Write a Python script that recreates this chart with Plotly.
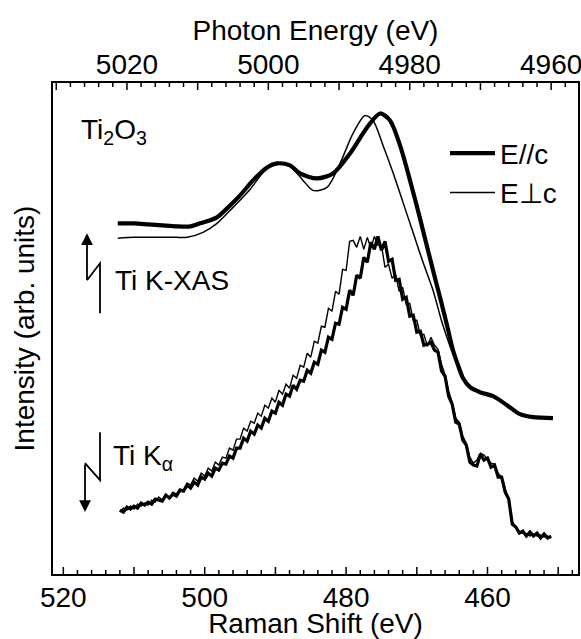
import plotly.graph_objects as go

# ---------------- data ----------------
# Raman-shift grid (eV) for the Ti K-alpha emission spectra
raman_grid = [
    512.0, 511.5, 511.0, 510.5, 510.0, 509.5, 509.0, 508.5, 508.0, 507.5,
    507.0, 506.5, 506.0, 505.5, 505.0, 504.5, 504.0, 503.5, 503.0, 502.5,
    502.0, 501.5, 501.0, 500.5, 500.0, 499.5, 499.0, 498.5, 498.0, 497.5,
    497.0, 496.5, 496.0, 495.5, 495.0, 494.5, 494.0, 493.5, 493.0, 492.5,
    492.0, 491.5, 491.0, 490.5, 490.0, 489.5, 489.0, 488.5, 488.0, 487.5,
    487.0, 486.5, 486.0, 485.5, 485.0, 484.5, 484.0, 483.5, 483.0, 482.5,
    482.0, 481.5, 481.0, 480.5, 480.0, 479.5, 479.0, 478.5, 478.0, 477.5,
    477.0, 476.5, 476.0, 475.5, 475.0, 474.5, 474.0, 473.5, 473.0, 472.5,
    472.0, 471.5, 471.0, 470.5, 470.0, 469.5, 469.0, 468.5, 468.0, 467.5,
    467.0, 466.5, 466.0, 465.5, 465.0, 464.5, 464.0, 463.5, 463.0, 462.5,
    462.0, 461.5, 461.0, 460.5, 460.0, 459.5, 459.0, 458.5, 458.0, 457.5,
    457.0, 456.5, 456.0, 455.5, 455.0, 454.5, 454.0, 453.5, 453.0, 452.5,
    452.0, 451.5, 451.0,
]
# Ti K-alpha intensity, E//c (arb. units)
kalpha_par = [
    64, 62, 67, 65, 68, 66, 71, 69, 72, 70,
    75, 74, 73, 79, 76, 80, 78, 84, 83, 89,
    86, 92, 89, 97, 95, 101, 98, 106, 104, 111,
    110, 118, 116, 126, 126, 136, 133, 143, 140, 149,
    146, 156, 153, 163, 161, 172, 169, 180, 178, 189,
    185, 194, 193, 204, 201, 212, 210, 224, 222, 237,
    235, 251, 250, 267, 265, 284, 279, 299, 296, 317,
    312, 332, 325, 338, 324, 333, 313, 315, 294, 295,
    275, 277, 258, 259, 242, 243, 229, 230, 232, 224,
    222, 203, 198, 178, 170, 152, 150, 134, 129, 112,
    109, 108, 120, 114, 116, 107, 109, 97, 97, 82,
    75, 50, 47, 41, 43, 38, 42, 38, 41, 36,
    40, 36, 38,
]
# Ti K-alpha intensity, E perp c (arb. units)
kalpha_perp = [
    62, 66, 64, 68, 65, 70, 68, 71, 69, 74,
    72, 77, 74, 79, 76, 82, 80, 85, 84, 91,
    89, 96, 93, 101, 98, 106, 103, 112, 109, 117,
    116, 126, 124, 135, 135, 146, 143, 153, 151, 161,
    158, 169, 166, 176, 172, 184, 180, 190, 186, 199,
    196, 209, 207, 221, 217, 233, 231, 248, 247, 266,
    263, 283, 280, 305, 304, 333, 334, 327, 338, 325,
    337, 326, 338, 329, 329, 307, 310, 296, 300, 283,
    287, 270, 271, 254, 254, 239, 240, 228, 237, 229,
    225, 210, 199, 183, 172, 156, 152, 138, 131, 117,
    111, 114, 121, 119, 115, 111, 110, 101, 97, 85,
    74, 53, 46, 43, 41, 40, 38, 40, 38, 39,
    37, 38, 36,
]

# Ti K-XAS (read on the Raman-shift scale, plotted against photon energy)
xas_par_raman = [512.3, 510.0, 508.0, 506.0, 504.0, 502.0, 500.66, 498.26, 496.84, 495.0,
                 493.17, 491.19, 489.77, 487.93, 486.52, 484.11, 481.85, 479.45, 477.04, 475.2,
                 473.79, 472.37, 470.96, 469.55, 467.71, 466.72, 465.73, 464.88, 464.17, 463.46,
                 462.47, 461.06, 459.22, 457.24, 455.4, 453.56, 450.74]
xas_par = [351, 351, 350, 349, 348, 348, 351, 357, 366, 379,
           394, 407, 411, 409, 401, 396, 401, 421, 447, 461,
           454, 429, 394, 356, 304, 277, 249, 224, 209, 196,
           187, 182, 178, 169, 160, 157, 156]

xas_perp_raman = [512.3, 510.0, 508.0, 506.0, 504.0, 502.5, 500.24, 498.26, 496.0, 493.59,
                  491.47, 489.77, 487.93, 486.09, 484.68, 482.7, 480.86, 479.02, 477.33, 476.19,
                  474.78, 473.37, 471.95, 470.54, 469.12, 467.71, 466.44, 465.3, 464.17, 463.46,
                  462.47, 461.06, 459.22, 457.24, 455.4, 453.56, 450.74]
xas_perp = [336, 337, 337, 337, 337, 337, 342, 351, 367, 385,
            404, 411, 408, 394, 384, 387, 411, 441, 459, 454,
            429, 402, 372, 342, 312, 284, 252, 228, 208, 196,
            187, 182, 178, 169, 160, 157, 156]

PHOTON_OFFSET = 4509.0  # photon energy = Raman shift + offset

# tick positions: long ticks every 10 eV, short ticks every 2 eV, labels every 20 eV
bottom_major = [450, 460, 470, 480, 490, 500, 510, 520]
bottom_minor = [448, 452, 454, 456, 458, 462, 464, 466, 468, 472, 474, 476, 478,
                482, 484, 486, 488, 492, 494, 496, 498, 502, 504, 506, 508,
                512, 514, 516, 518]
top_major = [4960, 4970, 4980, 4990, 5000, 5010, 5020, 5030]
top_minor = [4958, 4962, 4964, 4966, 4968, 4972, 4974, 4976, 4978, 4982, 4984, 4986,
             4988, 4992, 4994, 4996, 4998, 5002, 5004, 5006, 5008, 5012, 5014, 5016,
             5018, 5022, 5024, 5026, 5028]
bottom_alias = {"450": "", "470": "", "490": "", "510": ""}
top_alias = {"4970": "", "4990": "", "5010": "", "5030": ""}

RAMAN_RANGE = [521.46, 447.2]
PHOTON_RANGE = [RAMAN_RANGE[0] + PHOTON_OFFSET, RAMAN_RANGE[1] + PHOTON_OFFSET]
Y_RANGE = [0, 491.5]

# ---------------- layout helpers ----------------
W, H = 581, 639
ML, MR, MT, MB = 53, 3, 82.5, 65
FONT = "Liberation Sans, Arial, Helvetica, sans-serif"
FS = 28
PLOT_H = H - MT - MB
MAJOR_LEN = 7 / PLOT_H
MINOR_LEN = 4 / PLOT_H


def pxp(x):
    return (x - ML) / (W - ML - MR)


def pyp(y):
    return (H - MB - y) / (H - MT - MB)


xas_par_photon = [r + PHOTON_OFFSET for r in xas_par_raman]
xas_perp_photon = [r + PHOTON_OFFSET for r in xas_perp_raman]

fig = go.Figure()
fig.add_trace(go.Scatter(x=xas_par_photon, y=xas_par, mode="lines", name="E//c",
                         xaxis="x2", yaxis="y",
                         line=dict(color="black", width=4.2, shape="spline", smoothing=0.8)))
fig.add_trace(go.Scatter(x=xas_perp_photon, y=xas_perp, mode="lines", name="E\u22a5c",
                         xaxis="x2", yaxis="y",
                         line=dict(color="black", width=1.5, shape="spline", smoothing=0.8)))
fig.add_trace(go.Scatter(x=raman_grid, y=kalpha_par, mode="lines", showlegend=False,
                         line=dict(color="black", width=3.2)))
fig.add_trace(go.Scatter(x=raman_grid, y=kalpha_perp, mode="lines", showlegend=False,
                         line=dict(color="black", width=1.4)))

label_axis = dict(showgrid=False, zeroline=False, showline=True, linecolor="black",
                  linewidth=2, ticks="", tickmode="linear", dtick=10, tick0=0,
                  tickfont=dict(family=FONT, size=FS, color="black"),
                  ticklabeloverflow="allow")

fig.update_layout(
    width=W, height=H,
    margin=dict(l=ML, r=MR, t=MT, b=MB, autoexpand=False),
    paper_bgcolor="white", plot_bgcolor="white",
    font=dict(family=FONT, size=FS, color="black"),
    xaxis=dict(range=RAMAN_RANGE, labelalias=bottom_alias, mirror=True,
               ticklabelstandoff=-3,
               title=dict(text="Raman Shift (eV)", font=dict(family=FONT, size=FS),
                          standoff=17),
               **label_axis),
    xaxis2=dict(range=PHOTON_RANGE, overlaying="x", side="top", anchor="y",
                labelalias=top_alias, ticklabelstandoff=-4,
                title=dict(text="Photon Energy (eV)", font=dict(family=FONT, size=FS),
                           standoff=0),
                **label_axis),
    yaxis=dict(range=Y_RANGE, showgrid=False, zeroline=False, showline=True,
               linecolor="black", linewidth=2, mirror=True, ticks="",
               showticklabels=False,
               title=dict(text="Intensity (arb. units)", font=dict(family=FONT, size=FS),
                          standoff=8)),
    legend=dict(x=pxp(445), y=pyp(128), xanchor="left", yanchor="top",
                bgcolor="rgba(0,0,0,0)", font=dict(family=FONT, size=FS),
                itemwidth=45, tracegroupgap=0),
    showlegend=True,
)

# inward-pointing tick marks placed on the axes' own scales
tick_line = dict(color="black", width=1.5)
for v in bottom_major:
    fig.add_shape(type="line", xref="x", yref="paper", x0=v, x1=v, y0=0, y1=MAJOR_LEN,
                  line=tick_line, layer="above")
for v in bottom_minor:
    fig.add_shape(type="line", xref="x", yref="paper", x0=v, x1=v, y0=0, y1=MINOR_LEN,
                  line=tick_line, layer="above")
for v in top_major:
    fig.add_shape(type="line", xref="x2", yref="paper", x0=v, x1=v, y0=1,
                  y1=1 - MAJOR_LEN, line=tick_line, layer="above")
for v in top_minor:
    fig.add_shape(type="line", xref="x2", yref="paper", x0=v, x1=v, y0=1,
                  y1=1 - MINOR_LEN, line=tick_line, layer="above")

# text labels
fig.add_annotation(x=pxp(79), y=pyp(131), xref="paper", yref="paper",
                   text="Ti<sub>2</sub>O<sub>3</sub>", showarrow=False,
                   xanchor="left", yanchor="middle", font=dict(family=FONT, size=FS))
fig.add_annotation(x=pxp(113), y=pyp(280), xref="paper", yref="paper",
                   text="Ti K-XAS", showarrow=False,
                   xanchor="left", yanchor="middle", font=dict(family=FONT, size=FS))
fig.add_annotation(x=pxp(111), y=pyp(457), xref="paper", yref="paper",
                   text="Ti K<sub>\u03b1</sub>", showarrow=False,
                   xanchor="left", yanchor="middle", font=dict(family=FONT, size=FS))

# zig-zag arrow symbols
fig.add_shape(type="path", xref="paper", yref="paper",
              path=f"M {pxp(87)},{pyp(280)} L {pxp(100)},{pyp(263)} L {pxp(100)},{pyp(313)}",
              line=dict(color="black", width=1.8))
fig.add_annotation(x=pxp(87), y=pyp(233), xref="paper", yref="paper", text="",
                   showarrow=True, ax=0, ay=48, arrowhead=2, arrowsize=1.3,
                   arrowwidth=1.8, arrowcolor="black", standoff=0, startstandoff=0)
fig.add_shape(type="path", xref="paper", yref="paper",
              path=f"M {pxp(100)},{pyp(432)} L {pxp(100)},{pyp(480)} L {pxp(85)},{pyp(463)}",
              line=dict(color="black", width=1.8))
fig.add_annotation(x=pxp(85), y=pyp(512), xref="paper", yref="paper", text="",
                   showarrow=True, ax=0, ay=-49, arrowhead=2, arrowsize=1.3,
                   arrowwidth=1.8, arrowcolor="black", standoff=0, startstandoff=0)

fig.write_html("out.html", config={"displayModeBar": False},
               post_script="document.body.style.margin='0';"
               "document.body.style.overflow='hidden';")
